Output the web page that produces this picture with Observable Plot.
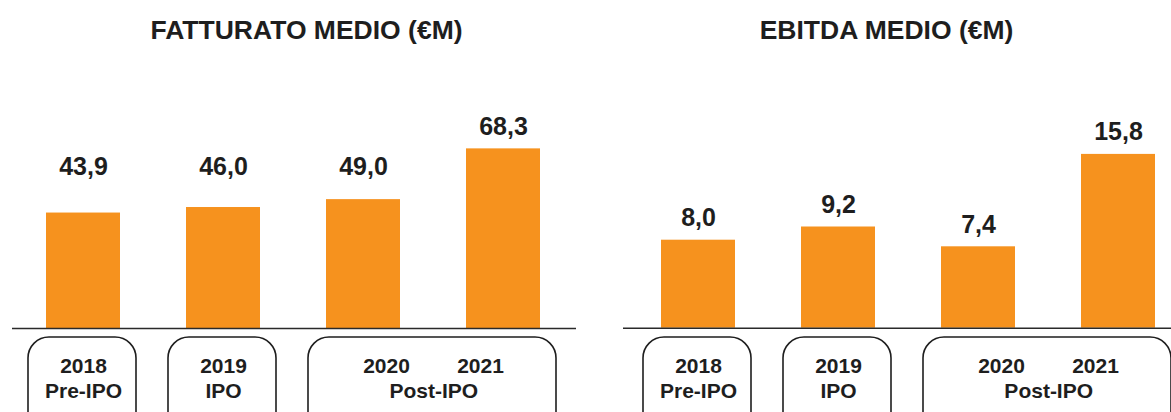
<!DOCTYPE html>
<html>
<head>
<meta charset="utf-8">
<script src="https://cdn.jsdelivr.net/npm/d3@7"></script>
<script src="https://cdn.jsdelivr.net/npm/@observablehq/plot@0.6"></script>
<style>
html, body { margin: 0; padding: 0; background: #fff; overflow: hidden; }
#wrap { position: relative; width: 1171px; height: 412px; }
#left, #right { position: absolute; top: 0; }
#left { left: 0; }
#right { left: 590px; }
</style>
</head>
<body>
<div id="wrap"><div id="left"></div><div id="right"></div></div>
<script>
// ---- data ----
const years = ["2018", "2019", "2020", "2021"];
const fatturato = [43.9, 46.0, 49.0, 68.3];
const ebitda = [8.0, 9.2, 7.4, 15.8];
const phases = ["Pre-IPO", "IPO", "Post-IPO"];
const phaseYears = [["2018"], ["2019"], ["2020", "2021"]];
const titles = ["FATTURATO MEDIO (€M)", "EBITDA MEDIO (€M)"];

// ---- styling ----
const ORANGE = "#F6921E";
const INK = "#1e1e1e";
const FONT = "'Liberation Sans', Arial, Helvetica, sans-serif";
const PAD_INNER = 0.475;
const fmt = v => v.toFixed(1).replace(".", ",");

function panel({el, title, values, width, marginLeft, marginRight, xRange, yDomain, yRange, labelFloor, titleDx}) {
  const rows = years.map((year, i) => ({year, value: values[i]}));
  const step = (xRange[1] - xRange[0]) / (years.length - PAD_INNER);

  // year labels inside boxes: years sharing a box are pulled toward each other
  const yearRows = [];
  phaseYears.forEach(ys => ys.forEach((y, j) => {
    const shift = ys.length === 1 ? 0 : (j === 0 ? 1 : -1);
    yearRows.push({year: y, shift});
  }));

  const textStyle = {fontWeight: "bold", fill: INK, fontFamily: FONT};

  // rounded boxes grouping the years, positioned through the x band scale
  function boxes(index, scales) {
    const x = scales.x;
    const bw = typeof x.bandwidth === "function" ? x.bandwidth() : scales.scales.x.bandwidth;
    const g = d3.create("svg:g");
    phaseYears.forEach(ys => {
      const x0 = x(ys[0]) - 18;
      const x1 = x(ys[ys.length - 1]) + bw + 16;
      g.append("rect")
        .attr("x", x0).attr("y", 337)
        .attr("width", x1 - x0).attr("height", 110)
        .attr("rx", 21).attr("ry", 21)
        .attr("fill", "none").attr("stroke", INK).attr("stroke-width", 1.6);
    });
    return g.node();
  }

  const marks = [
    Plot.barY(rows, {x: "year", y: "value", fill: ORANGE}),
    Plot.ruleY([0], {stroke: "#2a2a2a", strokeWidth: 1.6}),
    Plot.text(rows, {
      x: "year",
      y: d => Math.max(d.value, labelFloor),
      text: d => fmt(d.value),
      dy: -22, fontSize: 25, ...textStyle
    }),
    Plot.text([title], {
      frameAnchor: "top", lineAnchor: "bottom", dy: 38, dx: titleDx,
      fontSize: 26.5, ...textStyle
    }),
    boxes,
    ...[1, 0, -1].map(s => Plot.text(yearRows.filter(r => r.shift === s), {
      x: "year", text: "year", frameAnchor: "top", lineAnchor: "middle", dy: 366, dx: s * 23,
      fontSize: 21, ...textStyle
    })),
    ...phases.map((p, i) => Plot.text([p], {
      x: () => phaseYears[i][0], text: d => d, frameAnchor: "top", lineAnchor: "middle", dy: 391,
      dx: (phaseYears[i].length - 1) * step / 2,
      fontSize: 21, ...textStyle
    }))
  ];

  const chart = Plot.plot({
    width, height: 412,
    marginLeft, marginRight, marginTop: 0, marginBottom: 0,
    style: {background: "#fff", fontFamily: FONT},
    x: {domain: years, range: xRange, paddingInner: PAD_INNER, paddingOuter: 0, axis: null},
    y: {domain: yDomain, range: yRange, axis: null},
    marks
  });
  document.getElementById(el).append(chart);
}

panel({
  el: "left", title: titles[0], values: fatturato,
  width: 590, marginLeft: 12, marginRight: 14,
  xRange: [45, 541], yDomain: [0, 100], yRange: [328, 65],
  labelFloor: 53, titleDx: 12
});

panel({
  el: "right", title: titles[1], values: ebitda,
  width: 581, marginLeft: 33, marginRight: 0,
  xRange: [70, 565], yDomain: [0, 20], yRange: [327.7, 107.7],
  labelFloor: 0, titleDx: -11
});
</script>
</body>
</html>
